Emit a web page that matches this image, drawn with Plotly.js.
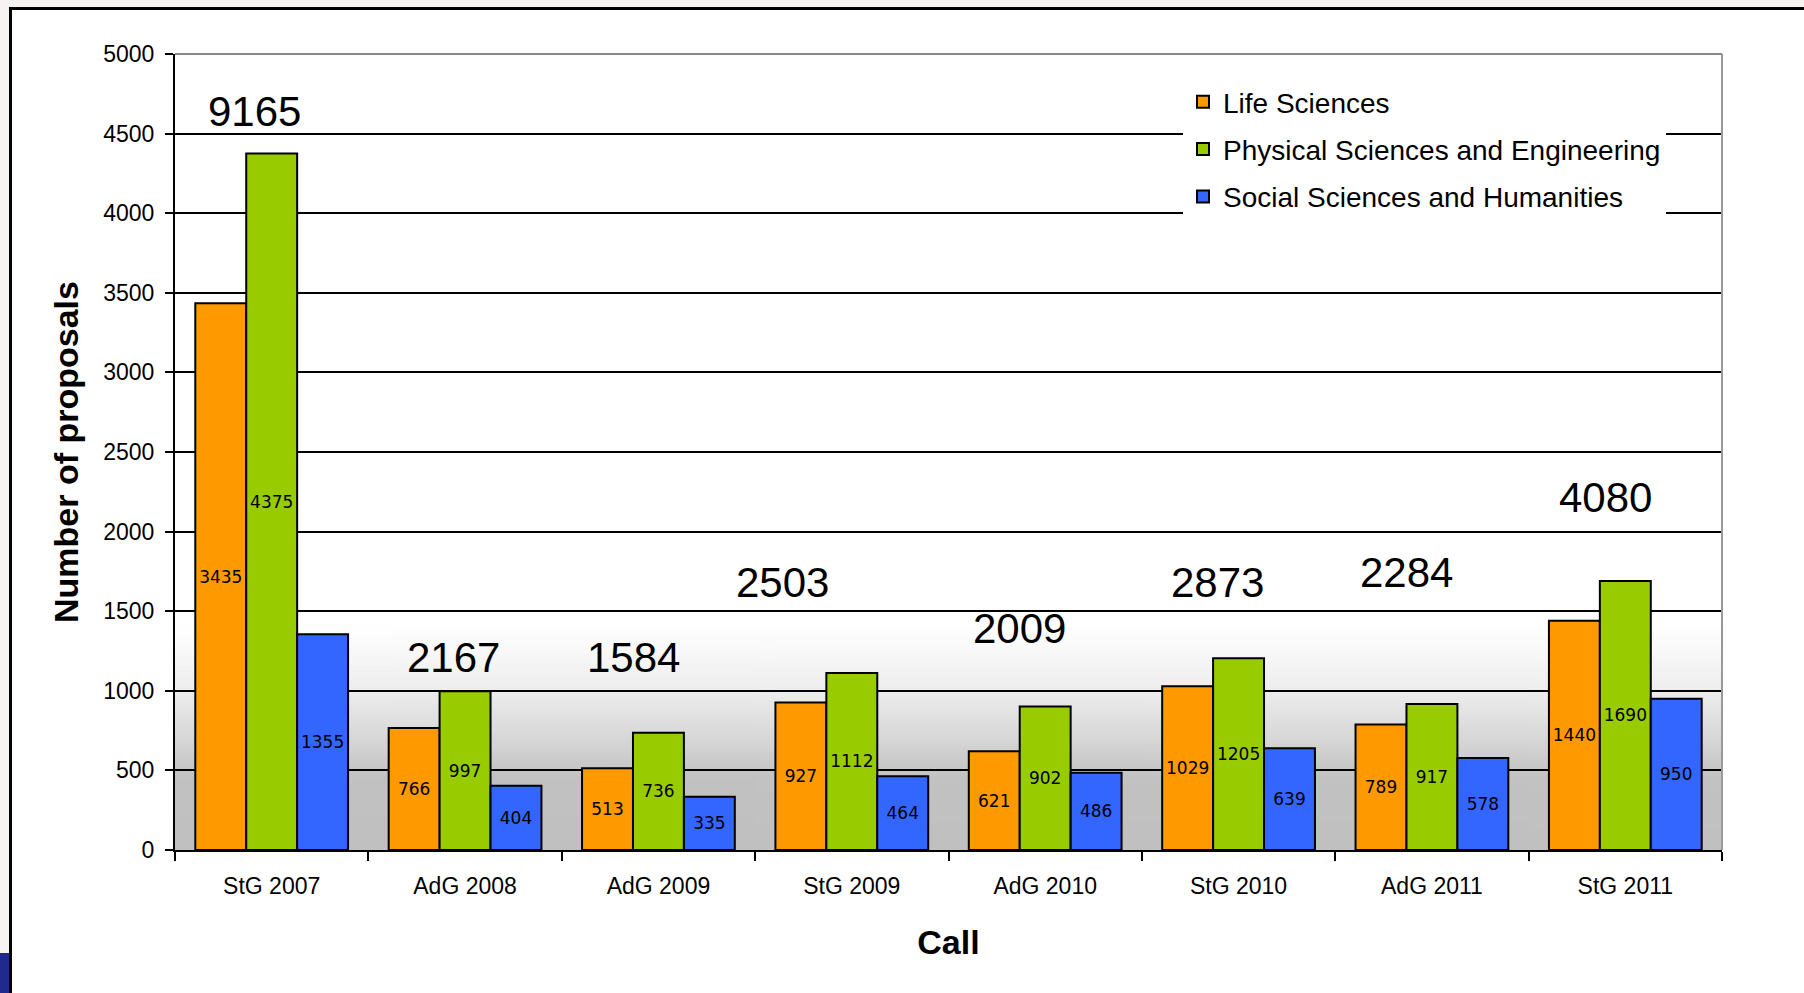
<!DOCTYPE html>
<html>
<head>
<meta charset="utf-8">
<script src="https://cdn.plot.ly/plotly-3.0.1.min.js"></script>
<style>
  html, body { margin: 0; padding: 0; background: #ffffff; }
  #chart { width: 1804px; height: 993px; }
</style>
</head>
<body>
<div id="chart"></div>
<script>
// ---- Data ----
const categories = ['StG 2007', 'AdG 2008', 'AdG 2009', 'StG 2009', 'AdG 2010', 'StG 2010', 'AdG 2011', 'StG 2011'];
const lifeSciences = [3435, 766, 513, 927, 621, 1029, 789, 1440];
const physicalSciences = [4375, 997, 736, 1112, 902, 1205, 917, 1690];
const socialSciences = [1355, 404, 335, 464, 486, 639, 578, 950];
const seriesNames = ['Life Sciences', 'Physical Sciences and Engineering', 'Social Sciences and Humanities'];
const yTicks = [0, 500, 1000, 1500, 2000, 2500, 3000, 3500, 4000, 4500, 5000];

const totals = categories.map((_, i) => lifeSciences[i] + physicalSciences[i] + socialSciences[i]);

// ---- Placement of total labels (layout only) ----
const totalLabelY = [4637, 1212, 1212, 1681, 1394, 1681, 1744, 2212];
const totalLabelShift = [-17, -12, -25, -69, -26, -21, -25, -20];

// ---- Layout geometry ----
const W = 1804, H = 993;
const M = { l: 175, r: 82, t: 54, b: 143 };
const PW = W - M.l - M.r, PH = H - M.t - M.b;
const px = v => (v - M.l) / PW;          // page x -> paper x
const py = v => 1 - (v - M.t) / PH;      // page y -> paper y

const FONT = 'Liberation Sans, Arial, sans-serif';
const colors = ['#FF9900', '#99CC00', '#3366FF'];
const seriesValues = [lifeSciences, physicalSciences, socialSciences];

// gradient background image for the plot area
function gradientImage() {
  const c = document.createElement('canvas');
  c.width = 4; c.height = 500;
  const g = c.getContext('2d');
  const grad = g.createLinearGradient(0, 0, 0, 500);
  const stop = v => 1 - v / 5000;
  grad.addColorStop(0, '#ffffff');
  grad.addColorStop(stop(1400), '#ffffff');
  grad.addColorStop(stop(1000), '#ededed');
  grad.addColorStop(stop(700), '#d7d7d7');
  grad.addColorStop(stop(450), '#c2c2c2');
  grad.addColorStop(1, '#c0c0c0');
  g.fillStyle = grad;
  g.fillRect(0, 0, 4, 500);
  return c.toDataURL('image/png');
}

const traces = seriesValues.map((vals, k) => ({
  type: 'bar',
  name: seriesNames[k],
  legendgroup: 'g' + k,
  x: categories,
  y: vals,
  text: vals.map(String),
  texttemplate: '%{text}',
  textposition: 'inside',
  insidetextanchor: 'middle',
  textangle: 0,
  constraintext: 'none',
  textfont: { family: 'DejaVu Sans, sans-serif', size: 17, color: '#000000' },
  marker: { color: colors[k], line: { color: '#000000', width: 2 } },
  hoverinfo: 'x+y+name'
}));

const annotations = categories.map((c, i) => ({
  x: c, y: totalLabelY[i], xref: 'x', yref: 'y',
  text: String(totals[i]),
  showarrow: false,
  xshift: totalLabelShift[i],
  yanchor: 'middle',
  font: { family: FONT, size: 42, color: '#000000' }
}));

const shapes = [
  { type: 'rect', xref: 'paper', yref: 'paper', x0: px(0), x1: px(W), y0: py(0), y1: py(7), fillcolor: '#f7f3f2', line: { width: 0 }, layer: 'below' },
  { type: 'rect', xref: 'paper', yref: 'paper', x0: px(0), x1: px(10), y0: py(0), y1: py(H), fillcolor: '#f7f3f2', line: { width: 0 }, layer: 'below' },
  { type: 'rect', xref: 'paper', yref: 'paper', x0: px(0), x1: px(9), y0: py(953), y1: py(H), fillcolor: '#1f2a8c', line: { width: 0 }, layer: 'below' },
  { type: 'line', xref: 'paper', yref: 'paper', x0: px(10), x1: px(W), y0: py(8.5), y1: py(8.5), line: { color: '#000000', width: 3 }, layer: 'below' },
  { type: 'line', xref: 'paper', yref: 'paper', x0: px(10.5), x1: px(10.5), y0: py(7), y1: py(H), line: { color: '#000000', width: 3 }, layer: 'below' },
  { type: 'line', xref: 'paper', yref: 'paper', x0: 0, x1: 1, y0: 1, y1: 1, line: { color: '#888888', width: 2 }, layer: 'above' },
  { type: 'line', xref: 'paper', yref: 'paper', x0: 1, x1: 1, y0: 0, y1: 1, line: { color: '#999999', width: 2 }, layer: 'above' }
];

const layout = {
  width: W, height: H,
  margin: M,
  paper_bgcolor: '#ffffff',
  plot_bgcolor: '#ffffff',
  font: { family: FONT, color: '#000000' },
  barmode: 'group',
  bargap: 0.21,
  bargroupgap: 0,
  showlegend: true,
  legend: {
    x: px(1183), y: py(77), xanchor: 'left', yanchor: 'top',
    bgcolor: '#ffffff', borderwidth: 0,
    font: { family: FONT, size: 28, color: '#000000' },
    tracegroupgap: 8,
    traceorder: 'grouped'
  },
  xaxis: {
    type: 'category',
    tickson: 'boundaries',
    ticks: 'outside', ticklen: 9, tickwidth: 2, tickcolor: '#000000',
    showline: true, linecolor: '#000000', linewidth: 2,
    showgrid: false, zeroline: false,
    tickfont: { family: FONT, size: 23, color: '#000000' },
    ticklabelstandoff: 14,
    automargin: false,
    title: { text: '<b>Call</b>', font: { family: FONT, size: 34, color: '#000000' }, standoff: 33 }
  },
  yaxis: {
    range: [0, 5000],
    tickvals: yTicks,
    ticktext: yTicks.map(String),
    ticks: 'outside', ticklen: 8, tickwidth: 2, tickcolor: '#000000',
    showline: true, linecolor: '#000000', linewidth: 2,
    showgrid: true, gridcolor: '#000000', gridwidth: 2,
    zeroline: false,
    tickfont: { family: FONT, size: 23, color: '#000000' },
    ticklabelstandoff: 6,
    automargin: false,
    title: { text: '<b>Number of proposals</b>', font: { family: FONT, size: 34, color: '#000000' }, standoff: 14 }
  },
  images: [{
    source: gradientImage(),
    xref: 'paper', yref: 'y',
    x: 0, y: 5000, sizex: 1, sizey: 5000,
    xanchor: 'left', yanchor: 'top',
    sizing: 'stretch', layer: 'below'
  }],
  shapes: shapes,
  annotations: annotations
};

Plotly.newPlot('chart', traces, layout, { displayModeBar: false, staticPlot: true });
</script>
</body>
</html>
